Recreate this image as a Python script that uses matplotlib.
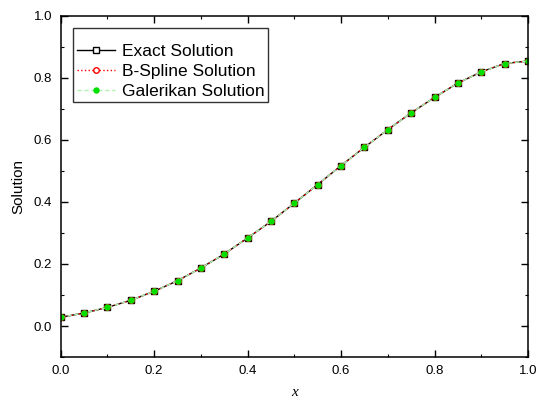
import numpy as np
import matplotlib
matplotlib.use('Agg')
import matplotlib.pyplot as plt
from matplotlib.ticker import MultipleLocator

plt.rcParams['font.family'] = ['Liberation Sans', 'DejaVu Sans']

x = [0.0, 0.05, 0.1, 0.15, 0.2, 0.25, 0.3, 0.35, 0.4, 0.45, 0.5,
     0.55, 0.6, 0.65, 0.7, 0.75, 0.8, 0.85, 0.9, 0.95, 1.0]
exact = [0.028, 0.042, 0.060, 0.083, 0.112, 0.146, 0.187, 0.232, 0.284, 0.337, 0.396,
         0.456, 0.517, 0.576, 0.633, 0.687, 0.737, 0.783, 0.819, 0.846, 0.854]
bspline = [0.028, 0.042, 0.060, 0.083, 0.112, 0.146, 0.187, 0.232, 0.284, 0.337, 0.396,
           0.456, 0.517, 0.576, 0.633, 0.687, 0.737, 0.783, 0.819, 0.846, 0.854]
galerkin = [0.028, 0.042, 0.060, 0.083, 0.112, 0.146, 0.187, 0.232, 0.284, 0.337, 0.396,
            0.456, 0.517, 0.576, 0.633, 0.687, 0.737, 0.783, 0.819, 0.846, 0.854]

fig = plt.figure(figsize=(5.39, 4.03), dpi=100)
ax = fig.add_axes([0.1126, 0.114, 0.867, 0.847])

ax.plot(x, exact, '-', color='black', lw=1.0, marker='s', ms=5,
        mfc='white', mec='black', mew=1.0, label='Exact Solution')
ax.plot(x, bspline, ':', color='red', lw=1.0, marker='o', ms=4,
        mfc='white', mec='red', mew=1.0, label='B-Spline Solution')
ax.plot(x, galerkin, '--', color='#b0f0b0', lw=1.0, marker='o', ms=3.6,
        mfc='#00e000', mec='#00e000', label='Galerikan Solution', dashes=(3, 2))

ax.set_xlim(0, 1.0)
ax.set_ylim(-0.1, 1.0)
ax.xaxis.set_major_locator(MultipleLocator(0.2))
ax.xaxis.set_minor_locator(MultipleLocator(0.1))
ax.yaxis.set_major_locator(MultipleLocator(0.2))
ax.yaxis.set_minor_locator(MultipleLocator(0.1))
ax.tick_params(which='both', direction='in', top=True, right=True, labelsize=9.5, pad=6)
ax.tick_params(which='major', length=5, width=1)
ax.tick_params(which='minor', length=2.5, width=0.8)
for s in ax.spines.values():
    s.set_linewidth(1.1)

ax.set_xlabel('x', family='Liberation Serif', style='italic', fontsize=11, labelpad=6)
ax.set_ylabel('Solution', fontsize=11, labelpad=6)

leg = ax.legend(loc='upper left', fontsize=12.5, frameon=True, fancybox=False,
                edgecolor='black', handlelength=2.2, borderpad=0.2,
                labelspacing=0.28, handletextpad=0.4, borderaxespad=0,
                title=' ', title_fontsize=5.5,
                bbox_to_anchor=(12.6 / 467.3, 1 - 12.6 / 341.3))
leg.get_frame().set_linewidth(1.0)

fig.savefig('out.png', dpi=100)
